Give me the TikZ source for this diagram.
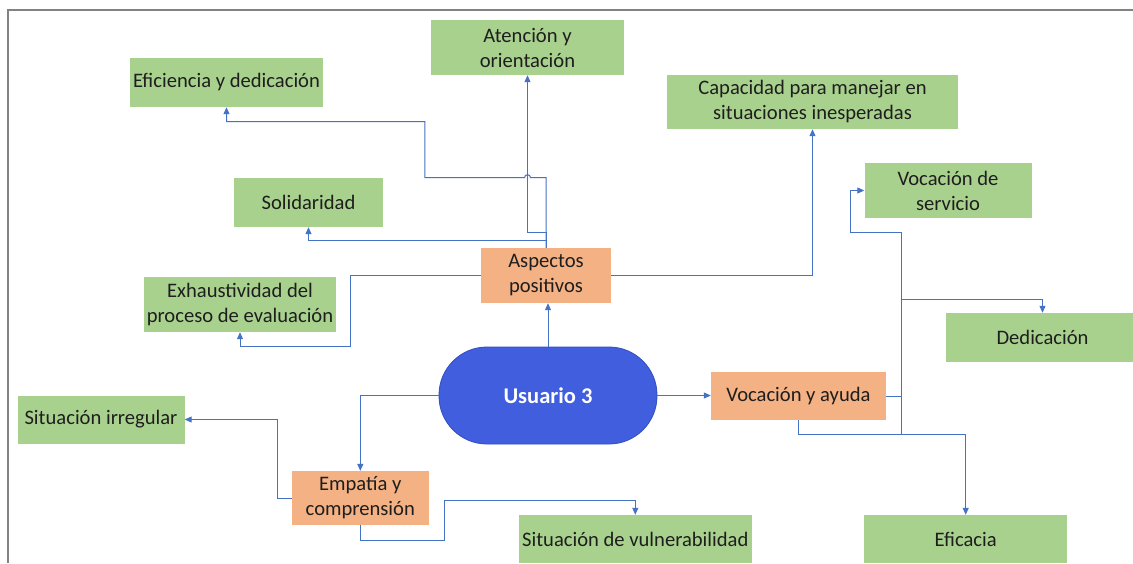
\documentclass[tikz,border=0pt]{standalone}
\usepackage{fontspec}
\setmainfont{Carlito}
\usetikzlibrary{arrows.meta}
\definecolor{gbox}{RGB}{169,209,142}
\definecolor{obox}{RGB}{244,177,131}
\definecolor{ublue}{RGB}{64,94,221}
\definecolor{ubluedark}{RGB}{50,78,190}
\definecolor{lblue}{RGB}{68,114,196}
\definecolor{framegray}{RGB}{130,130,130}
\definecolor{txt}{RGB}{30,30,30}
\begin{document}
\begin{tikzpicture}[x=1pt,y=-1pt,
  box/.style={rectangle, inner sep=0pt, align=center, font=\fontsize{20.6}{25}\selectfont, text=txt},
  gnode/.style={box, fill=gbox},
  onode/.style={box, fill=obox},
  conn/.style={draw=lblue, line width=1pt, -{Triangle[length=7pt,width=6pt]}},
  plain/.style={draw=lblue, line width=1pt}]
\useasboundingbox (0,0) rectangle (1133,563);
\fill[white] (0,0) rectangle (1133,563);
\draw[framegray, line width=2pt] (8,563) -- (8,10) -- (1133,10);

% nodes
\node[gnode, minimum width=193pt, minimum height=55pt] (aten) at (527.5,47.5) {Atención y\\orientación};
\node[gnode, minimum width=193pt, minimum height=49pt] (efic) at (226.5,82.5) {Eficiencia y dedicación};
\node[gnode, minimum width=291pt, minimum height=54pt] (capa) at (812.5,102) {Capacidad para manejar en\\situaciones inesperadas};
\node[gnode, minimum width=149pt, minimum height=49pt] (soli) at (308.5,202.5) {Solidaridad};
\node[gnode, minimum width=167pt, minimum height=55pt] (vds) at (948,190.5) {Vocación de\\servicio};
\node[onode, minimum width=130pt, minimum height=55pt] (asp) at (546,275.5) {Aspectos\\positivos};
\node[gnode, minimum width=192.5pt, minimum height=55pt] (exh) at (240,304.5) {Exhaustividad del\\proceso de evaluación};
\node[gnode, minimum width=194pt, minimum height=49pt] (dedic) at (1042.5,337.5) {Dedicación};
\node[rectangle, rounded corners=48pt, fill=ublue, draw=ubluedark, line width=0.8pt, minimum width=218pt, minimum height=97pt, text=white, font=\fontsize{22.5}{26}\selectfont\bfseries] (usu) at (548,395.5) {Usuario 3};
\node[onode, minimum width=175pt, minimum height=48pt] (vya) at (798.5,396) {Vocación y ayuda};
\node[gnode, minimum width=167pt, minimum height=48pt] (sirr) at (101,419.5) {Situación irregular};
\node[onode, minimum width=136.6pt, minimum height=54pt] (emp) at (360.3,498) {Empatía y\\comprensión};
\node[gnode, minimum width=233.4pt, minimum height=48pt] (svul) at (635.3,539) {Situación de vulnerabilidad};
\node[gnode, minimum width=202.5pt, minimum height=48pt] (efica) at (965.7,539) {Eficacia};

% connectors
\draw[conn] (usu.north) -- (usu.north |- asp.south);
\draw[conn] (asp.north) -- ++(0,-15) -| (aten.south);
\draw[conn] (asp.north) -- (546,177.7) -- (530.5,177.7) arc[start angle=0,end angle=180,radius=3pt] -- (424.8,177.7) -- (424.8,121.7) -| (efic.south);
\draw[conn] (asp.north) ++(0,-7.5) -| (soli.south);
\draw[conn] (asp.west) -- (350,275.5) -- (350,346) -| (exh.south);
\draw[conn] (asp.east) -| (capa.south);
\draw[conn] (usu.east) -- (usu.east -| vya.west);
\draw[conn] (usu.west) -| (emp.north);
\draw[conn] (emp.west) -- (277.5,498) |- (sirr.east);
\draw[conn] (emp.south) -- (360.3,540) -- (444,540) -- (444,500.7) -| (svul.north);
\coordinate (j) at (901,396);
\draw[plain] (vya.east) -- (j);
\draw[plain] (901,434) -- (901,232);
\draw[conn] (901,232) -- (850.6,232) |- (vds.west);
\draw[conn] (901,299) -| (dedic.north);
\draw[conn] (vya.south) -- (798.5,434) -| (efica.north);
\end{tikzpicture}
\end{document}
